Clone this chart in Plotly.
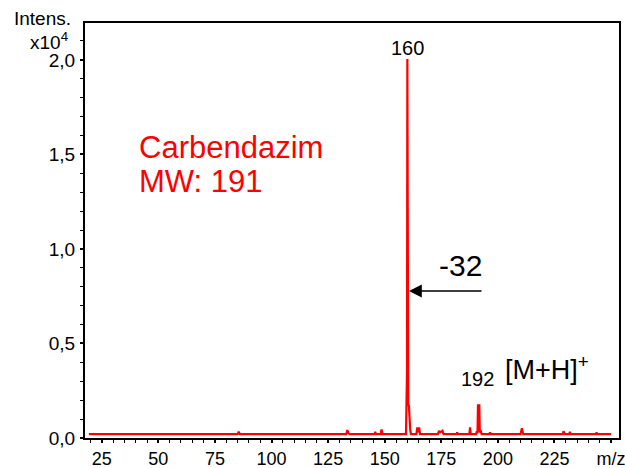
import plotly.graph_objects as go

# ---- data ----
mz = [19.3,
      85.0, 85.5, 86.0,
      133.0, 133.5, 134.0, 134.5,
      145.5, 145.8, 146.1,
      148.2, 148.6, 149.0,
      159.4, 159.7, 159.85, 160.0, 160.15, 160.4, 160.7, 161.0, 161.3, 161.6,
      164.0, 164.4, 164.8, 165.2, 165.6,
      173.5, 174.0, 174.5, 175.5, 176.0,
      181.8, 182.0, 182.2,
      187.4, 187.7, 188.0,
      190.4, 190.7, 191.0, 191.2, 191.8, 192.0, 192.5, 192.8, 193.1,
      196.3, 196.5, 196.8,
      210.0, 210.6, 211.2,
      228.7, 229.0, 229.3, 229.6, 231.5, 231.8, 232.1,
      243.4, 243.6, 243.8,
      250.0]
intensity = [200,
             200, 330, 200,
             200, 420, 260, 200,
             200, 330, 200,
             200, 450, 200,
             200, 1500, 3500, 20050, 3500, 1800, 1700, 900, 400, 200,
             200, 560, 300, 560, 200,
             200, 380, 300, 380, 200,
             200, 300, 200,
             200, 560, 200,
             200, 350, 250, 1730, 1730, 300, 350, 200, 200,
             200, 300, 200,
             200, 520, 200,
             200, 360, 300, 200, 200, 330, 200,
             200, 300, 200,
             200]

x_tickvals = [25, 50, 75, 100, 125, 150, 175, 200, 225, 250]
x_ticktext = ["25", "50", "75", "100", "125", "150", "175", "200", "225", "m/z"]
y_tickvals = [0, 5000, 10000, 15000, 20000]
y_ticktext = ["0,0", "0,5", "1,0", "1,5", "2,0"]

FONT = "Liberation Sans, Arial, sans-serif"

fig = go.Figure()
fig.add_trace(go.Scatter(x=mz, y=intensity, mode="lines",
                         line=dict(color="#ff0000", width=2.2),
                         hoverinfo="skip", showlegend=False))

W, H = 625, 468
L, R, T, B = 85, 6, 23, 30
pw, ph = W - L - R, H - T - B


def px(p):
    return (p - L) / pw


def py(p):
    return (H - B - p) / ph


annotations = [
    dict(text="Intens.", x=px(42), y=py(19), xref="paper", yref="paper",
         showarrow=False, font=dict(size=19, color="black", family=FONT),
         xanchor="center", yanchor="middle"),
    dict(text="x10<sup>4</sup>", x=px(70), y=py(41), xref="paper", yref="paper",
         showarrow=False, font=dict(size=19, color="black", family=FONT),
         xanchor="right", yanchor="middle"),
    dict(text="Carbendazim", x=px(137), y=py(147), xref="paper", yref="paper",
         showarrow=False, font=dict(size=31, color="#ff0000", family=FONT),
         xanchor="left", yanchor="middle"),
    dict(text="MW: 191", x=px(137), y=py(182), xref="paper", yref="paper",
         showarrow=False, font=dict(size=31, color="#ff0000", family=FONT),
         xanchor="left", yanchor="middle"),
    dict(text="160", x=px(407), y=py(48), xref="paper", yref="paper",
         showarrow=False, font=dict(size=20, color="black", family=FONT),
         xanchor="center", yanchor="middle"),
    dict(text="192", x=px(477), y=py(379), xref="paper", yref="paper",
         showarrow=False, font=dict(size=20, color="black", family=FONT),
         xanchor="center", yanchor="middle"),
    dict(text="[M+H]<sup>+</sup>", x=px(503), y=py(368), xref="paper", yref="paper",
         showarrow=False, font=dict(size=27, color="black", family=FONT),
         xanchor="left", yanchor="middle"),
    dict(text="-32", x=px(460), y=py(265), xref="paper", yref="paper",
         showarrow=False, font=dict(size=30, color="black", family=FONT),
         xanchor="center", yanchor="middle"),
    dict(text="", x=px(409), y=py(291), xref="paper", yref="paper",
         ax=74, ay=0, axref="pixel", ayref="pixel",
         showarrow=True, arrowhead=2, arrowsize=1.6, arrowwidth=1.6,
         arrowcolor="black", standoff=0),
]

fig.update_layout(
    width=W, height=H,
    margin=dict(l=L, r=R, t=T, b=B, autoexpand=False),
    paper_bgcolor="white", plot_bgcolor="white",
    font=dict(family=FONT, size=19, color="black"),
    annotations=annotations,
    xaxis=dict(range=[17.6, 253.5], tickvals=x_tickvals, ticktext=x_ticktext,
               automargin=False, ticklabeloverflow="allow",
               showline=True, linecolor="black", linewidth=2, mirror=True,
               ticks="outside", ticklen=3, tickwidth=1.5, tickcolor="black",
               minor=dict(dtick=5, tick0=0, ticks="outside", ticklen=3,
                          tickwidth=1.2, tickcolor="black"),
               showgrid=False, zeroline=False,
               tickfont=dict(size=18, family=FONT, color="black")),
    yaxis=dict(range=[0, 21950], tickvals=y_tickvals, ticktext=y_ticktext,
               automargin=False, ticklabeloverflow="allow",
               showline=True, linecolor="black", linewidth=2, mirror=True,
               ticks="outside", ticklen=3, tickwidth=1.5, tickcolor="black",
               minor=dict(dtick=1000, tick0=0, ticks="outside", ticklen=3,
                          tickwidth=1.2, tickcolor="black"),
               showgrid=False, zeroline=False, ticklabelstandoff=1,
               tickfont=dict(size=19, family=FONT, color="black")),
)

fig.write_html("out.html")
